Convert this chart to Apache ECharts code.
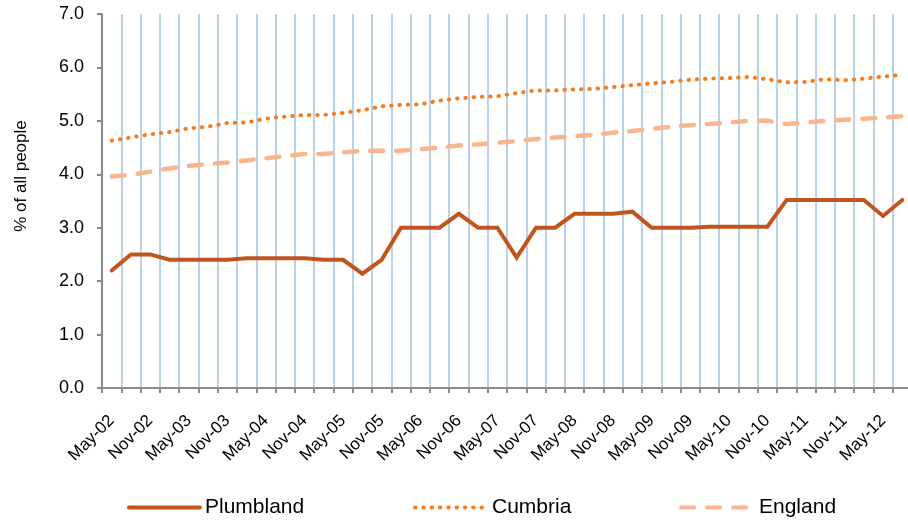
<!DOCTYPE html>
<html>
<head>
<meta charset="utf-8">
<script src="https://cdn.jsdelivr.net/npm/echarts@6/dist/echarts.min.js"></script>
<style>
  html, body { margin: 0; padding: 0; background: #fff; overflow: hidden; }
  /* a little wider than the window: the last band is cut off like the original */
  #chart { width: 912px; height: 526px; }
</style>
</head>
<body>
<div id="chart"></div>
<script>
// quarterly, May-02 .. Aug-12
const months = ['May', 'Aug', 'Nov', 'Feb']
const categories = []
for (let i = 0; i < 42; i++) {
    const m = months[i % 4]
    const yr = 2 + Math.floor((i + 1) / 4) // Feb rolls the year
    categories.push(m + '-' + String(yr).padStart(2, '0'))
}

const plumbland = [2.2, 2.5, 2.5, 2.4, 2.4, 2.4, 2.4, 2.43, 2.43, 2.43, 2.43,
    2.4, 2.4, 2.14, 2.4, 3.0, 3.0, 3.0, 3.26, 3.0, 3.0, 2.44, 3.0, 3.0, 3.26,
    3.26, 3.26, 3.3, 3.0, 3.0, 3.0, 3.02, 3.02, 3.02, 3.02, 3.52, 3.52, 3.52,
    3.52, 3.52, 3.22, 3.52]

const cumbria = [4.63, 4.69, 4.75, 4.79, 4.86, 4.89, 4.96, 4.97, 5.04, 5.08, 5.11,
    5.11, 5.15, 5.2, 5.27, 5.3, 5.31, 5.38, 5.42, 5.45, 5.46, 5.52, 5.57, 5.57,
    5.59, 5.6, 5.63, 5.67, 5.7, 5.73, 5.77, 5.79, 5.8, 5.82, 5.78, 5.72, 5.73,
    5.78, 5.76, 5.79, 5.83, 5.86]

const england = [3.96, 3.99, 4.05, 4.11, 4.16, 4.19, 4.22, 4.26, 4.3, 4.34, 4.38,
    4.38, 4.41, 4.44, 4.44, 4.44, 4.47, 4.5, 4.54, 4.56, 4.59, 4.62, 4.66, 4.69,
    4.71, 4.74, 4.78, 4.81, 4.85, 4.89, 4.92, 4.94, 4.97, 5.0, 5.0, 4.94, 4.97,
    5.0, 5.02, 5.04, 5.06, 5.09]

const font = 'Liberation Sans, Arial, sans-serif'
const axisGrey = '#8a8a8a'

// one legend per series so each sits where the original has it
const makeLegend = (name, left, width) => {
    return {
        left: left,
        top: 497,
        padding: 0,
        itemWidth: width,
        itemHeight: 14,
        itemStyle: { opacity: 0 }, // hide the symbol, keep the line
        lineStyle: { width: 4 },
        textStyle: { fontSize: 21, color: '#000', fontFamily: font },
        data: [name],
    }
}

let option = {
    animation: false,
    textStyle: { fontFamily: font, color: '#000' },
    grid: {
        left: 102,
        top: 14,
        bottom: 138,
        right: 0,
    },
    legend: [
        makeLegend('Plumbland', 127, 71),
        makeLegend('Cumbria', 413, 72),
        makeLegend('England', 679, 73),
    ],
    xAxis: {
        type: 'category',
        boundaryGap: true,
        data: categories,
        axisLine: { lineStyle: { color: axisGrey, width: 2 } },
        axisTick: { show: true, interval: 0, length: 5, lineStyle: { color: axisGrey, width: 2 } },
        splitLine: {
            show: true,
            interval: 0,
            lineStyle: { color: '#bcd0e8', width: 2 },
        },
        axisLabel: {
            interval: 1,
            rotate: 45,
            margin: 30,
            fontSize: 17,
            color: '#000',
            fontFamily: font,
        },
    },
    yAxis: {
        type: 'value',
        min: 0,
        max: 7,
        interval: 1,
        name: '% of all people',
        nameLocation: 'middle',
        nameRotate: 90,
        nameGap: 72,
        nameTextStyle: { fontSize: 17, color: '#000', fontFamily: font, padding: [0, 0, 0, 50] },
        splitLine: { show: false },
        axisLine: { show: true, lineStyle: { color: axisGrey, width: 2 } },
        axisTick: { show: true, length: 5, lineStyle: { color: axisGrey, width: 2 } },
        axisLabel: {
            margin: 18,
            fontSize: 18,
            color: '#000',
            fontFamily: font,
            formatter: (v) => v.toFixed(1),
        },
    },
    series: [
        {
            name: 'Plumbland',
            type: 'line',
            symbol: 'none',
            data: plumbland,
            itemStyle: { color: '#c0561e' },
            lineStyle: { color: '#c0561e', width: 4, cap: 'round', join: 'miter' },
            z: 4,
        },
        {
            name: 'Cumbria',
            type: 'line',
            symbol: 'none',
            data: cumbria,
            itemStyle: { color: '#f47d20' },
            lineStyle: { color: '#f47d20', width: 4, type: [0.5, 7.8], cap: 'round' },
            z: 3,
        },
        {
            name: 'England',
            type: 'line',
            symbol: 'none',
            data: england,
            itemStyle: { color: '#f9b68c' },
            lineStyle: { color: '#f9b68c', width: 4.5, type: [13, 13], cap: 'round' },
            z: 2,
        },
    ],
}

let myChart = echarts.init(document.getElementById('chart'))
myChart.setOption(option)
window.addEventListener('resize', myChart.resize)
</script>
</body>
</html>
